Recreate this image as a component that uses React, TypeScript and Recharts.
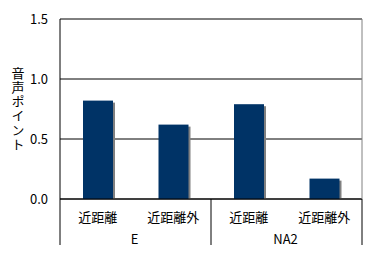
import React from 'react';
import { BarChart, Bar, XAxis, YAxis, CartesianGrid, ReferenceLine } from 'recharts';

const categories = ['近距離', '近距離外', '近距離', '近距離外'];
const groups = ['E', 'E', 'NA2', 'NA2'];
const values = [0.82, 0.62, 0.79, 0.17];
const yTicks = [0, 0.5, 1.0, 1.5];
const yLabel = '音声ポイント';

const data = categories.map((c, i) => ({ name: c, group: groups[i], value: values[i] }));

const FONT = "'Noto Sans CJK JP', 'Noto Sans', sans-serif";
const W = 373;
const H = 264;
const MARGIN = { top: 19, right: 11, left: 0, bottom: 19 };
const YW = 60;
const XH = 46;
const PLOT_W = W - MARGIN.left - MARGIN.right - YW;
const PLOT_H = H - MARGIN.top - MARGIN.bottom - XH;
const HALF = PLOT_W / categories.length / 2;

const ShadowBar = (props: any) => {
  const { x, y, width, height } = props;
  if (!height || height <= 0) return null;
  return (
    <g>
      <rect x={x + 2} y={y + 2} width={width} height={Math.max(0, height - 2)} fill="#808080" />
      <rect x={x} y={y} width={width} height={height} fill="#003366" />
    </g>
  );
};

const XTick = (props: any) => {
  const { x, y, payload, index } = props;
  const i = index as number;
  const last = i === categories.length - 1;
  const startOfGroup = i === 0 || groups[i] !== groups[i - 1];
  let groupEnd = i;
  while (groupEnd + 1 < groups.length && groups[groupEnd + 1] === groups[i]) groupEnd++;
  const groupCenter = x + (groupEnd - i) * HALF;
  return (
    <g>
      <text x={x} y={y + 17} textAnchor="middle" dominantBaseline="central" fontSize={13} fontFamily={FONT} fill="#000">
        {payload.value}
      </text>
      {startOfGroup && (
        <>
          <line x1={x - HALF} x2={x - HALF} y1={y} y2={y + XH} stroke="#000" strokeWidth={1} />
          <text x={groupCenter - 1} y={y + 39} textAnchor="middle" dominantBaseline="central" fontSize={13} fontFamily={FONT} fill="#000">
            {groups[i]}
          </text>
        </>
      )}
      {last && (
        <>
          <line x1={x + HALF} x2={x + HALF} y1={y} y2={y + XH} stroke="#000" strokeWidth={1} />
          <line x1={x + HALF} x2={x + HALF} y1={y - PLOT_H} y2={y} stroke="#808080" strokeWidth={1} />
        </>
      )}
    </g>
  );
};

const YLabel = (props: any) => {
  const vb = props.viewBox || { x: 0, y: MARGIN.top, width: YW, height: PLOT_H };
  const cy = vb.y + vb.height / 2;
  return (
    <text
      x={18}
      y={cy}
      textAnchor="middle"
      fontSize={13}
      fontFamily={FONT}
      fill="#000"
      style={{ writingMode: 'vertical-rl', textOrientation: 'upright', letterSpacing: '1.3px' } as any}
    >
      {yLabel}
    </text>
  );
};

export default function App() {
  return (
    <div style={{ position: 'absolute', left: 0, top: 0, background: '#fff' }}>
      <BarChart width={W} height={H} data={data} margin={MARGIN}>
        <CartesianGrid vertical={false} stroke="#000" horizontalValues={yTicks} />
        <ReferenceLine y={1.5} stroke="#808080" />
        <XAxis
          dataKey="name"
          height={XH}
          tickLine={false}
          tickSize={0}
          tickMargin={0}
          axisLine={{ stroke: '#000' }}
          interval={0}
          tick={<XTick />}
        />
        <YAxis
          width={YW}
          domain={[0, 1.5]}
          ticks={yTicks}
          tickFormatter={(v: number) => v.toFixed(1)}
          tickLine={false}
          tickSize={0}
          tickMargin={12}
          axisLine={{ stroke: '#000' }}
          tick={{ fontSize: 13, fontFamily: FONT, fill: '#000' }}
          label={{ content: <YLabel /> }}
        />
        <Bar dataKey="value" barSize={30} isAnimationActive={false} shape={<ShadowBar />} />
      </BarChart>
    </div>
  );
}
